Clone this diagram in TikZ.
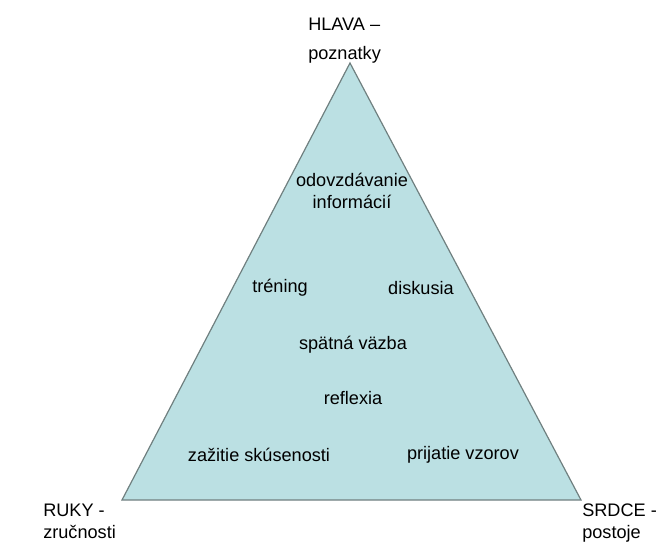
\documentclass[tikz,border=0pt]{standalone}
\usepackage{fontspec}
\setmainfont{Liberation Sans}
\definecolor{trifill}{RGB}{187,224,227}
\definecolor{triline}{RGB}{112,128,128}
\begin{document}
\begin{tikzpicture}[x=0.75pt,y=-0.75pt,
	txt/.style={inner sep=0pt, font=\fontsize{13.6}{16}\selectfont},
	corner/.style={txt, anchor=north west, align=left}]
	\useasboundingbox (0,0) rectangle (658,542);

	% Triangle
	\coordinate (apex) at (350,63);
	\coordinate (left) at (122,500);
	\coordinate (right) at (581,500);
	\filldraw [fill=trifill, draw=triline, line width=0.9pt, line join=miter] (apex) -- (left) -- (right) -- cycle;

	% Corners
	\node[corner, font=\fontsize{13.6}{21.5}\selectfont] (hlava) at (308,18) {HLAVA --\\poznatky};
	\node[corner] (ruky) at (43,504) {RUKY -\\zručnosti};
	\node[corner] (srdce) at (582,504) {SRDCE -\\postoje};

	% Inside
	\node[txt, align=center] (odovzd) at (352,191) {odovzdávanie\\informácií};
	\node[txt] (trening) at (280,288) {tréning};
	\node[txt] (diskusia) at (421,288) {diskusia};
	\node[txt] (vazba) at (353,345) {spätná väzba};
	\node[txt] (reflexia) at (353,398) {reflexia};
	\node[txt] (zazitie) at (259,455) {zažitie skúsenosti};
	\node[txt] (prijatie) at (463,455) {prijatie vzorov};
\end{tikzpicture}
\end{document}
